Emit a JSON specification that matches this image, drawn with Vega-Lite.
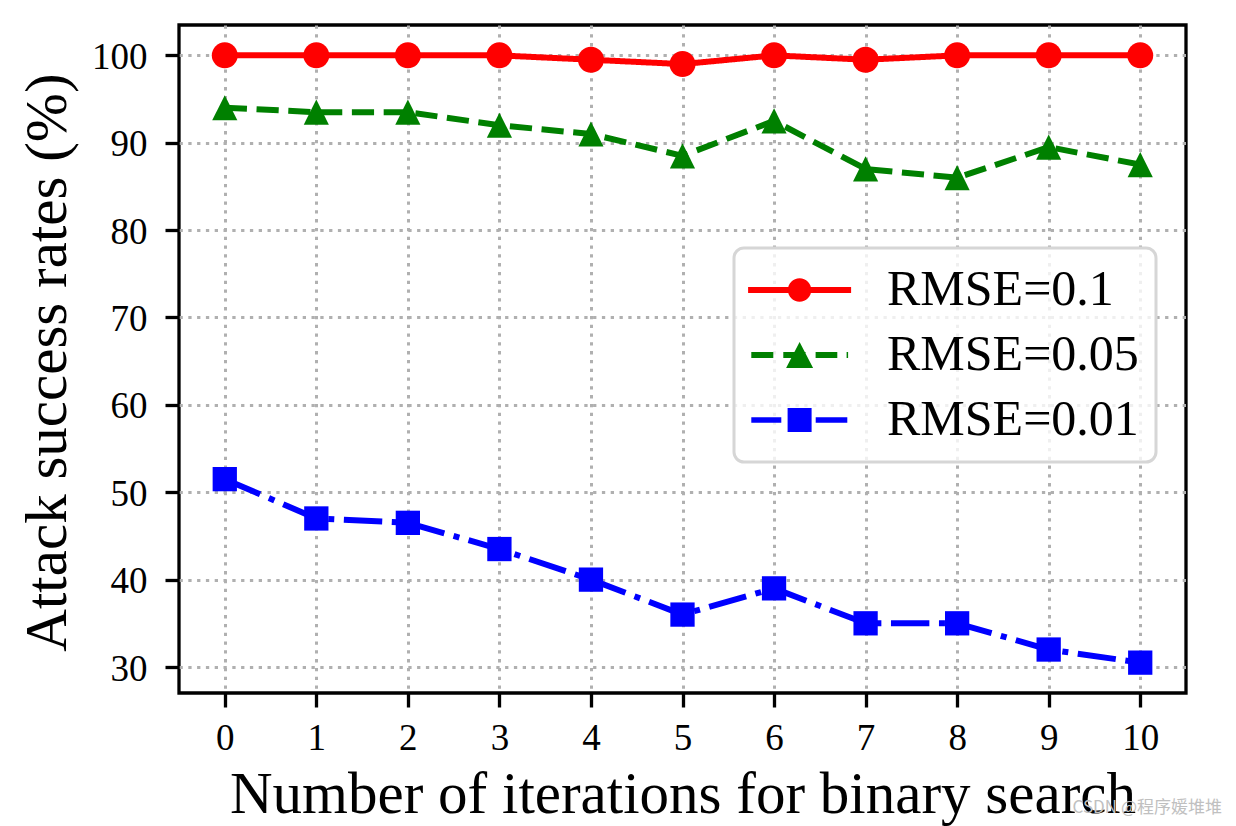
{
  "$schema": "https://vega.github.io/schema/vega-lite/v6.json",
  "width": 1007,
  "height": 668,
  "autosize": {"type": "none"},
  "padding": {"left": 179, "top": 25, "right": 50, "bottom": 133},
  "background": "white",
  "data": {
    "values": [
      {"series": "RMSE=0.1", "iter": 0, "rate": 100},
      {"series": "RMSE=0.1", "iter": 1, "rate": 100},
      {"series": "RMSE=0.1", "iter": 2, "rate": 100},
      {"series": "RMSE=0.1", "iter": 3, "rate": 100},
      {"series": "RMSE=0.1", "iter": 4, "rate": 99.5},
      {"series": "RMSE=0.1", "iter": 5, "rate": 99},
      {"series": "RMSE=0.1", "iter": 6, "rate": 100},
      {"series": "RMSE=0.1", "iter": 7, "rate": 99.5},
      {"series": "RMSE=0.1", "iter": 8, "rate": 100},
      {"series": "RMSE=0.1", "iter": 9, "rate": 100},
      {"series": "RMSE=0.1", "iter": 10, "rate": 100},
      {"series": "RMSE=0.05", "iter": 0, "rate": 94},
      {"series": "RMSE=0.05", "iter": 1, "rate": 93.5},
      {"series": "RMSE=0.05", "iter": 2, "rate": 93.5},
      {"series": "RMSE=0.05", "iter": 3, "rate": 92},
      {"series": "RMSE=0.05", "iter": 4, "rate": 91},
      {"series": "RMSE=0.05", "iter": 5, "rate": 88.5},
      {"series": "RMSE=0.05", "iter": 6, "rate": 92.5},
      {"series": "RMSE=0.05", "iter": 7, "rate": 87},
      {"series": "RMSE=0.05", "iter": 8, "rate": 86},
      {"series": "RMSE=0.05", "iter": 9, "rate": 89.5},
      {"series": "RMSE=0.05", "iter": 10, "rate": 87.5},
      {"series": "RMSE=0.01", "iter": 0, "rate": 51.5},
      {"series": "RMSE=0.01", "iter": 1, "rate": 47},
      {"series": "RMSE=0.01", "iter": 2, "rate": 46.5},
      {"series": "RMSE=0.01", "iter": 3, "rate": 43.5},
      {"series": "RMSE=0.01", "iter": 4, "rate": 40},
      {"series": "RMSE=0.01", "iter": 5, "rate": 36},
      {"series": "RMSE=0.01", "iter": 6, "rate": 39},
      {"series": "RMSE=0.01", "iter": 7, "rate": 35},
      {"series": "RMSE=0.01", "iter": 8, "rate": 35},
      {"series": "RMSE=0.01", "iter": 9, "rate": 32},
      {"series": "RMSE=0.01", "iter": 10, "rate": 30.5}
    ]
  },
  "title": {
    "text": "CSDN @程序媛堆堆",
    "orient": "bottom",
    "anchor": "end",
    "frame": "group",
    "font": "Noto Sans CJK SC",
    "fontSize": 17,
    "fontWeight": "normal",
    "color": "#c0c0c0",
    "dx": 36,
    "offset": -24
  },
  "config": {
    "view": {"stroke": "black", "strokeWidth": 3.3},
    "font": "Liberation Serif",
    "axis": {
      "labelFont": "Liberation Serif",
      "titleFont": "Liberation Serif",
      "labelColor": "black",
      "titleColor": "black",
      "titleFontWeight": "normal",
      "domain": false,
      "tickColor": "black",
      "tickWidth": 3.3,
      "tickSize": 14,
      "grid": true,
      "gridColor": "#b0b0b0",
      "gridDash": [3.3, 5.5],
      "gridWidth": 3,
      "labelFontSize": 37,
      "titleFontSize": 59
    }
  },
  "encoding": {
    "x": {
      "field": "iter",
      "type": "quantitative",
      "scale": {"domain": [-0.5, 10.5], "nice": false, "zero": false},
      "axis": {
        "values": [0, 1, 2, 3, 4, 5, 6, 7, 8, 9, 10],
        "labelPadding": 13,
        "labelFlush": false,
        "title": "Number of iterations for binary search",
        "titleY": 119,
        "titleBaseline": "alphabetic"
      }
    },
    "y": {
      "field": "rate",
      "type": "quantitative",
      "scale": {"domain": [27.025, 103.475], "nice": false, "zero": false},
      "axis": {
        "values": [30, 40, 50, 60, 70, 80, 90, 100],
        "labelPadding": 18,
        "labelOffset": 2,
        "labelFlush": false,
        "title": "Attack success rates (%)",
        "titleAngle": -90,
        "titleX": -114,
        "titleY": 337,
        "titleAlign": "center",
        "titleBaseline": "alphabetic"
      }
    },
    "color": {
      "field": "series",
      "type": "nominal",
      "sort": null,
      "scale": {"domain": ["RMSE=0.1", "RMSE=0.05", "RMSE=0.01"], "range": ["#ff0000", "#008000", "#0000ff"]},
      "legend": {
        "orient": "none",
        "legendX": 555,
        "legendY": 223,
        "title": null,
        "padding": 17,
        "rowPadding": 15,
        "symbolSize": 2500,
        "symbolOffset": 23.6,
        "symbolStrokeWidth": 0,
        "labelOffset": 62.4,
        "labelFontSize": 50,
        "labelFont": "Liberation Serif",
        "labelColor": "black",
        "labelLimit": 0,
        "cornerRadius": 10,
        "strokeColor": "#d6d6d6",
        "fillColor": "rgba(255,255,255,0.8)",
        "encoding": {
          "legend": {
            "strokeWidth": {"value": 3}
          },
          "symbols": {
            "shape": {"value": {"expr": "datum.value === 'RMSE=0.1' ? 'M-2.06,-0.124H-0.4V0.124H-2.06Z M0.4,-0.124H2.06V0.124H0.4Z M0.47,0A0.47,0.47 0 1,1 -0.47,0A0.47,0.47 0 1,1 0.47,0Z' : datum.value === 'RMSE=0.05' ? 'M-1.932,-0.124H-1.052V0.124H-1.932Z M-0.652,-0.124H0.24V0.124H-0.652Z M0.64,-0.124H1.508V0.124H0.64Z M1.88,-0.124H1.94V0.124H1.88Z M0,-0.52L0.54,0.52L-0.54,0.52Z' : 'M-1.932,-0.11H-0.732V0.11H-1.932Z M0.644,-0.11H1.908V0.11H0.644Z M-0.48,-0.48H0.48V0.48H-0.48Z'"}},
            "fill": {"value": {"expr": "datum.value === 'RMSE=0.1' ? '#ff0000' : datum.value === 'RMSE=0.05' ? '#008000' : '#0000ff'"}},
            "size": {"value": 2500},
            "opacity": {"value": 1}
          }
        }
      }
    }
  },
  "layer": [
    {
      "mark": {"type": "line", "strokeWidth": 6, "strokeCap": "butt", "strokeJoin": "round"},
      "encoding": {
        "strokeDash": {
          "field": "series",
          "type": "nominal",
          "sort": null,
          "scale": {"domain": ["RMSE=0.01", "RMSE=0.1", "RMSE=0.05"], "range": [[38.4, 9.6, 6, 9.6], [1, 0], [22.2, 9.6]]},
          "legend": null
        }
      }
    },
    {
      "mark": {"type": "point", "filled": true, "opacity": 1, "strokeWidth": 0},
      "encoding": {
        "shape": {
          "field": "series",
          "type": "nominal",
          "sort": null,
          "scale": {"domain": ["RMSE=0.05", "RMSE=0.1", "RMSE=0.01"], "range": ["M0,-1L1,1L-1,1Z", "circle", "square"]},
          "legend": null
        },
        "size": {
          "field": "series",
          "type": "nominal",
          "sort": null,
          "scale": {"domain": ["RMSE=0.01", "RMSE=0.05", "RMSE=0.1"], "range": [590, 676, 550]},
          "legend": null
        }
      }
    }
  ]
}
